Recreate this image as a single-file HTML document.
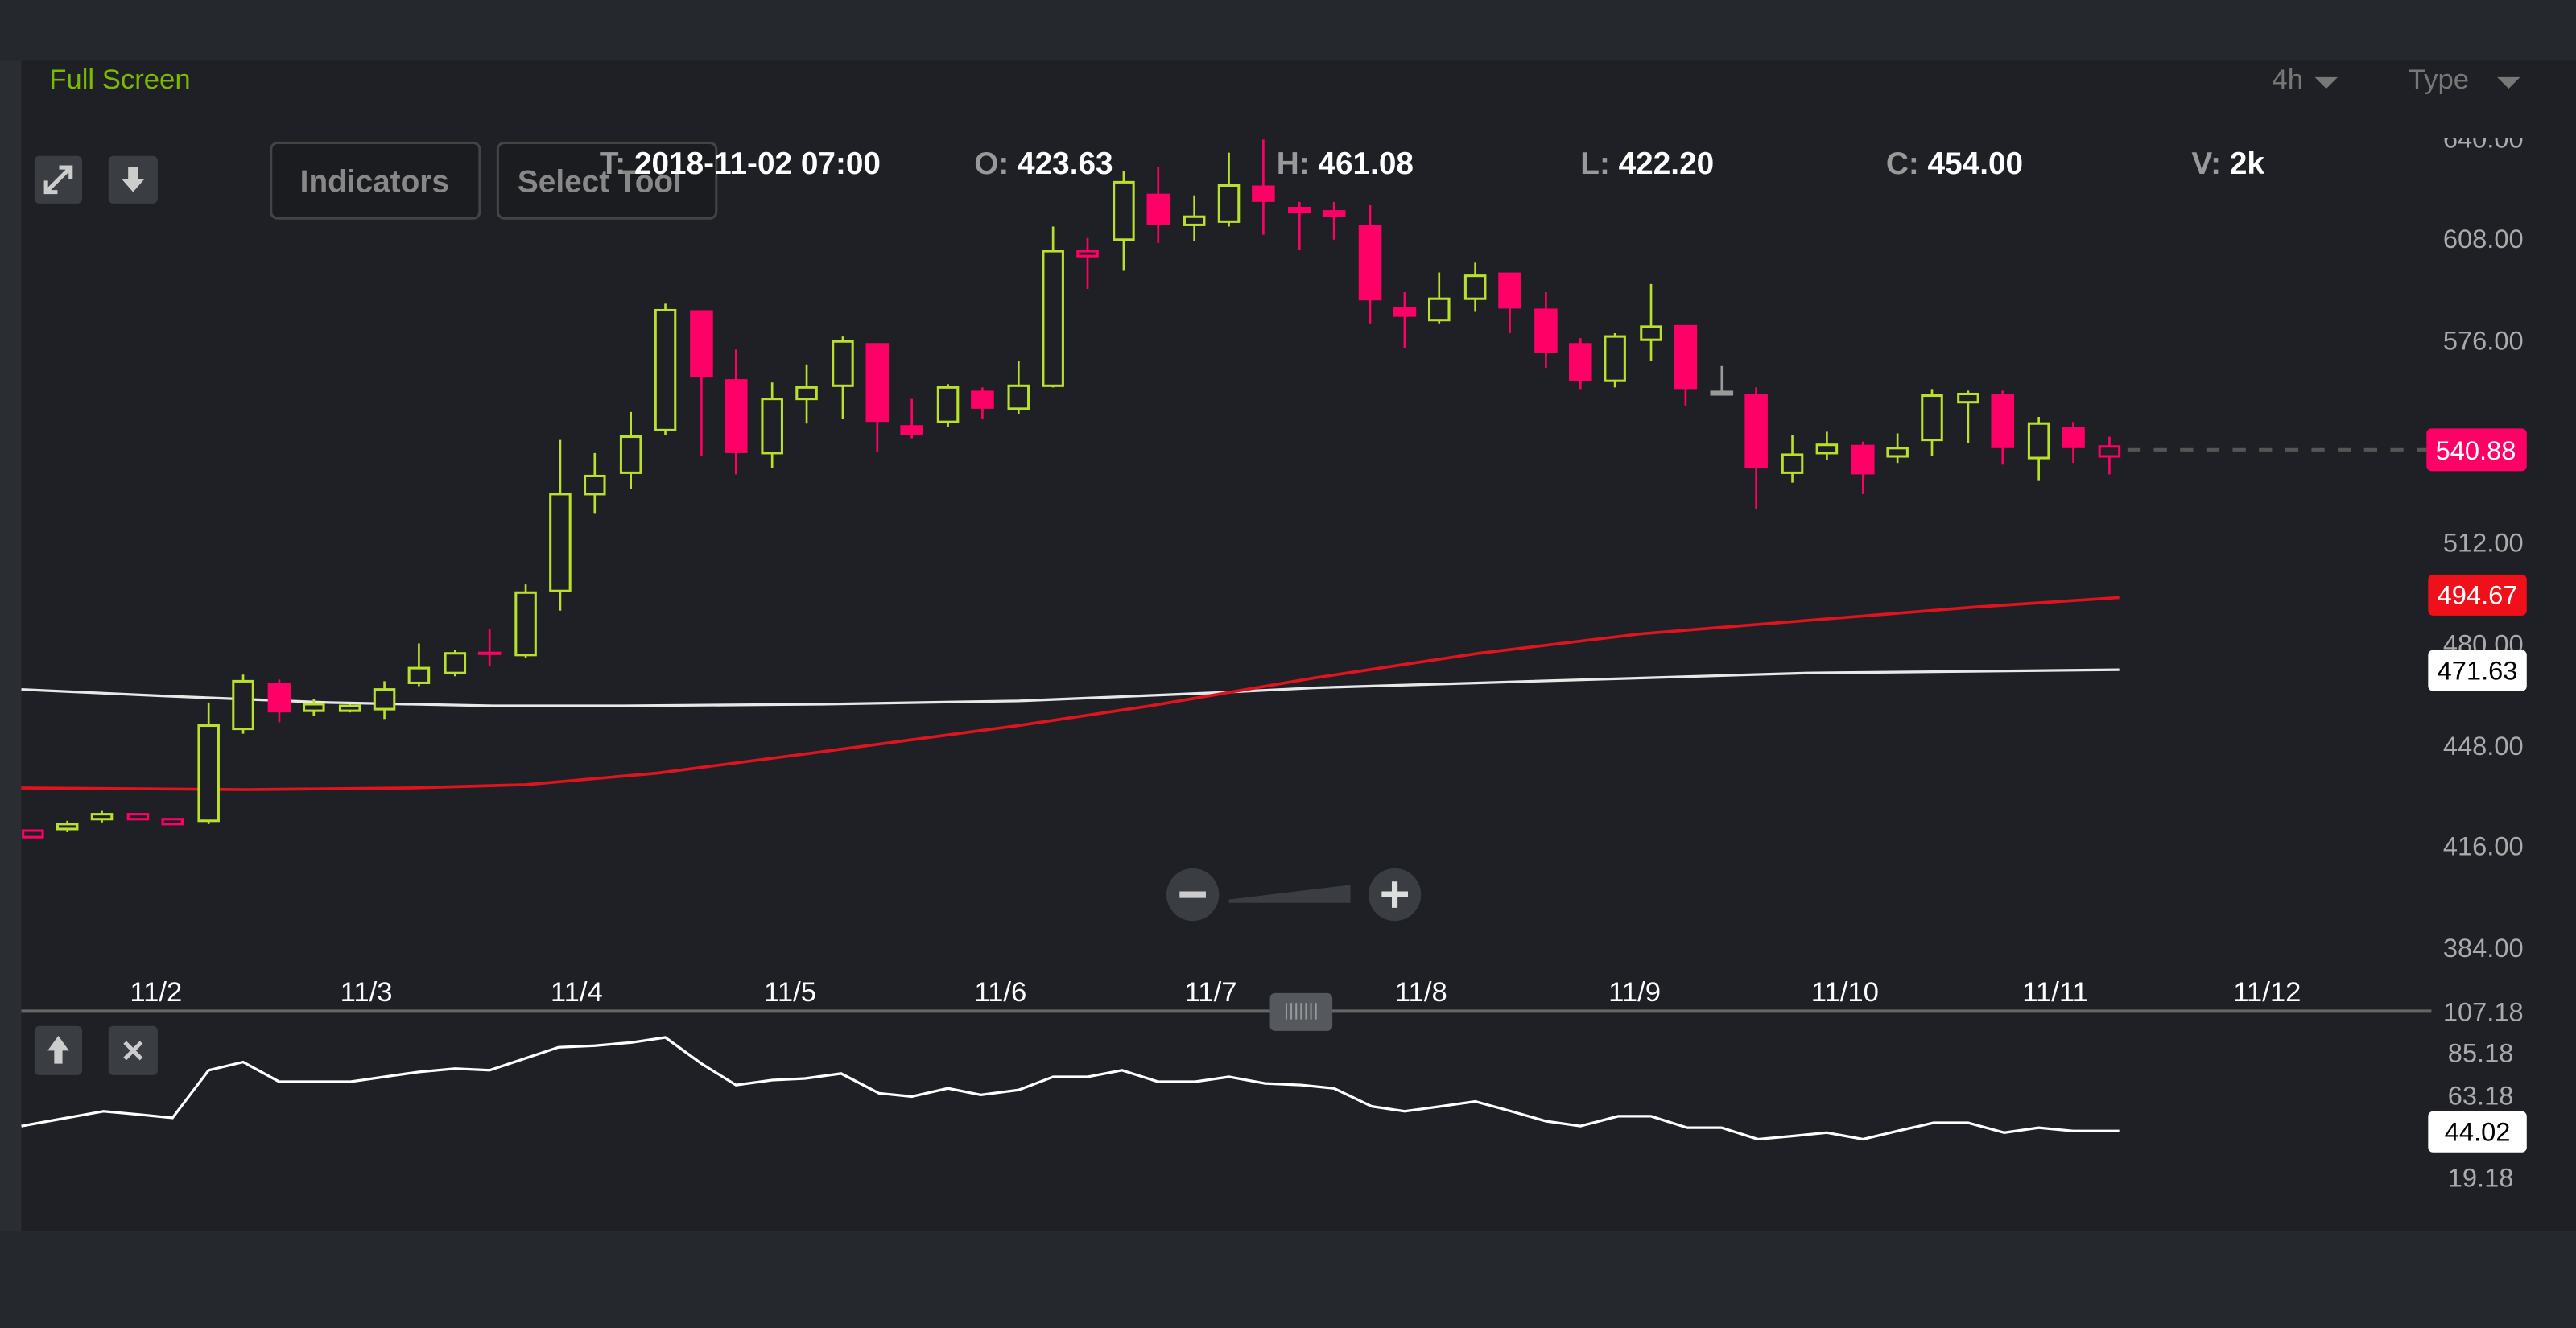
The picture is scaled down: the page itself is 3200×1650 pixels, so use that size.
<!DOCTYPE html>
<html><head><meta charset="utf-8"><style>
html,body{margin:0;padding:0;background:#25282d;width:3200px;height:1650px;overflow:hidden}
svg{display:block}
text{font-family:"Liberation Sans",sans-serif}
</style></head><body>
<svg id="s" width="3200" height="1650" viewBox="0 0 1568 809" preserveAspectRatio="none" xmlns="http://www.w3.org/2000/svg">
<defs><clipPath id="cp"><rect x="1400" y="84" width="168" height="20"/></clipPath></defs>
<rect x="0" y="0" width="1568" height="809" fill="#25282d"/>
<rect x="0" y="37" width="13" height="713" fill="#2a2d32"/>
<rect x="13" y="37" width="1555" height="713" fill="#1e2025"/>
<text x="30" y="54" font-size="17" fill="#7cba00">Full Screen</text>
<text x="1383" y="54" font-size="17" fill="#777">4h</text>
<polygon points="1409,47 1423,47 1416,54" fill="#777"/>
<text x="1466" y="54" font-size="17" fill="#777">Type</text>
<polygon points="1520,47 1534,47 1527,54" fill="#777"/>
<rect x="21" y="95" width="29" height="29" rx="3" fill="#3a3d42"/>
<path d="M28,117 L43,102 M36,102 L43,102 L43,109 M28,110 L28,117 L35,117" stroke="#ccc" stroke-width="2.5" fill="none"/>
<rect x="66" y="95" width="30" height="29" rx="3" fill="#3a3d42"/>
<path d="M78,102 L84,102 L84,109 L88,109 L81,117 L74,109 L78,109 Z" fill="#ccc"/>
<rect x="165" y="87" width="127" height="46" rx="4" fill="#1b1c1f" stroke="#444" stroke-width="1.5"/>
<text x="228" y="117" font-size="19" font-weight="bold" fill="#888" text-anchor="middle">Indicators</text>
<rect x="303" y="87" width="133" height="46" rx="4" fill="#1b1c1f" stroke="#444" stroke-width="1.5"/>
<text x="365" y="117" font-size="19" font-weight="bold" fill="#888" text-anchor="middle">Select Tool</text>
<g font-size="19" font-weight="bold">
<text x="365" y="106"><tspan fill="#999">T:</tspan><tspan fill="#fff"> 2018-11-02 07:00</tspan></text>
<text x="593" y="106"><tspan fill="#999">O:</tspan><tspan fill="#fff"> 423.63</tspan></text>
<text x="777" y="106"><tspan fill="#999">H:</tspan><tspan fill="#fff"> 461.08</tspan></text>
<text x="962" y="106"><tspan fill="#999">L:</tspan><tspan fill="#fff">  422.20</tspan></text>
<text x="1148" y="106"><tspan fill="#999">C:</tspan><tspan fill="#fff"> 454.00</tspan></text>
<text x="1334" y="106"><tspan fill="#999">V:</tspan><tspan fill="#fff"> 2k</tspan></text>
</g>
<g font-size="16" fill="#aaa" text-anchor="end">
<text x="1536" y="90" clip-path="url(#cp)">640.00</text>
<text x="1536" y="151">608.00</text>
<text x="1536" y="213">576.00</text>
<text x="1536" y="336">512.00</text>
<text x="1536" y="398">480.00</text>
<text x="1536" y="460">448.00</text>
<text x="1536" y="521">416.00</text>
<text x="1536" y="583">384.00</text>
<text x="1536" y="622">107.18</text>
<text x="1530" y="647">85.18</text>
<text x="1530" y="673">63.18</text>
<text x="1530" y="723">19.18</text>
</g>
<line x1="1295" y1="274" x2="1477" y2="274" stroke="#555" stroke-width="2" stroke-dasharray="8,8"/>
<polyline fill="none" stroke="#e8e8e8" stroke-width="1.6" points="13,420 100,424 200,428 300,430 380,430 500,429 620,427 740,422 800,419 900,416 1000,413 1100,410 1200,409 1290,408"/>
<polyline fill="none" stroke="#e0141e" stroke-width="1.8" points="13,480 150,481 250,480 320,478 400,471 500,458 620,442 700,430 800,413 900,398 1000,386 1100,378 1200,370 1290,364"/>
<g id="c"></g>
<rect x="1477" y="261" width="61" height="26" rx="3" fill="#ff0066"/>
<text x="1507" y="280" font-size="16" fill="#fff" text-anchor="middle">540.88</text>
<rect x="1478" y="350" width="60" height="25" rx="3" fill="#f0101a"/>
<text x="1508" y="368" font-size="16" fill="#fff" text-anchor="middle">494.67</text>
<rect x="1478" y="396" width="60" height="25" rx="3" fill="#fff"/>
<text x="1508" y="414" font-size="16" fill="#000" text-anchor="middle">471.63</text>
<circle cx="726" cy="545" r="16" fill="#3a3d42"/>
<rect x="718" y="543" width="16" height="4" fill="#ccc"/>
<polygon points="748,548 822,539 822,550 748,550" fill="#3a3d42"/>
<circle cx="849" cy="545" r="16" fill="#3a3d42"/>
<rect x="841" y="543" width="16" height="3.5" fill="#ddd"/><rect x="847.2" y="537" width="3.5" height="16" fill="#ddd"/>
<g font-size="17" fill="#fff" text-anchor="middle">
<text x="95" y="610">11/2</text><text x="223" y="610">11/3</text><text x="351" y="610">11/4</text><text x="481" y="610">11/5</text><text x="609" y="610">11/6</text><text x="737" y="610">11/7</text><text x="865" y="610">11/8</text><text x="995" y="610">11/9</text><text x="1123" y="610">11/10</text><text x="1251" y="610">11/11</text><text x="1380" y="610">11/12</text>
</g>
<line x1="13" y1="616" x2="1480" y2="616" stroke="#666" stroke-width="2"/>
<rect x="773" y="605" width="38" height="23" rx="3" fill="#55585d"/>
<g stroke="#999" stroke-width="1"><line x1="783" y1="611" x2="783" y2="621"/><line x1="786" y1="611" x2="786" y2="621"/><line x1="789" y1="611" x2="789" y2="621"/><line x1="792" y1="611" x2="792" y2="621"/><line x1="795" y1="611" x2="795" y2="621"/><line x1="798" y1="611" x2="798" y2="621"/><line x1="801" y1="611" x2="801" y2="621"/></g>
<rect x="21" y="625" width="29" height="30" rx="3" fill="#3a3d42"/>
<path d="M35.5,631 L42,640 L38,640 L38,648 L33,648 L33,640 L29,640 Z" fill="#ccc"/>
<rect x="66" y="625" width="30" height="30" rx="3" fill="#3a3d42"/>
<path d="M76,635 L86,645 M86,635 L76,645" stroke="#ccc" stroke-width="2.5"/>
<polyline fill="none" stroke="#fff" stroke-width="1.6" points="13,686 35,682 63,677 85,679 105,681 127,652 148,647 170,659 213,659 255,653 277,651 298,652 340,638 362,637 385,635 405,632 427,648 448,661 470,658 490,657 512,654 535,666 555,668 577,663 597,667 620,664 641,656 662,656 683,652 705,659 727,659 748,656 770,660 792,661 812,663 835,674 855,677 877,674 898,671 920,677 941,683 962,686 985,680 1005,680 1027,687 1048,687 1070,694 1092,692 1112,690 1134,694 1155,689 1177,684 1198,684 1220,690 1241,687 1262,689 1290,689"/>
<rect x="1478" y="677" width="60" height="25" rx="3" fill="#fff"/>
<text x="1508" y="695" font-size="16" fill="#000" text-anchor="middle">44.02</text>
</svg>
<script>
var d=[[20,506,510,506,510,'h'],[41,502,505,500,507,'g'],[62,496,499,494,501,'g'],[84,496,499,496,499,'h'],[105,499,502,499,502,'h'],[127,442,500,428,502,'g'],[148,415,444,411,447,'g'],[170,416,434,414,440,'r'],[191,429,433,426,436,'g'],[213,430,433,429,434,'g'],[234,420,432,415,438,'g'],[255,407,416,392,418,'g'],[277,398,410,396,412,'g'],[298,397,399,383,406,'r'],[320,361,399,356,401,'g'],[341,301,360,268,372,'g'],[362,290,301,276,313,'g'],[384,266,288,251,298,'g'],[405,189,262,185,265,'g'],[427,189,230,189,278,'r'],[448,231,276,213,289,'r'],[470,243,276,233,285,'g'],[491,236,243,222,258,'g'],[513,208,235,205,255,'g'],[534,209,257,209,275,'r'],[555,259,265,243,267,'r'],[577,236,257,234,260,'g'],[598,238,249,236,255,'r'],[620,235,249,220,252,'g'],[641,153,235,138,236,'g'],[662,153,156,145,176,'h'],[684,111,146,104,165,'g'],[705,118,137,102,148,'r'],[727,132,137,119,147,'g'],[748,113,135,93,138,'g'],[769,113,123,85,143,'r'],[791,126,130,123,152,'r'],[812,128,132,123,146,'r'],[834,137,183,125,197,'r'],[855,187,193,178,212,'r'],[876,182,195,166,197,'g'],[898,168,182,160,190,'g'],[919,166,188,166,203,'r'],[941,188,215,178,224,'r'],[962,209,232,206,237,'r'],[983,205,232,203,236,'g'],[1005,199,207,173,220,'g'],[1026,198,237,198,247,'r'],[1048,238,241,223,241,'k'],[1069,240,285,236,310,'r'],[1091,277,288,265,294,'g'],[1112,271,276,263,280,'g'],[1134,271,289,269,301,'r'],[1155,273,278,264,282,'g'],[1176,241,268,237,278,'g'],[1198,240,245,238,270,'g'],[1219,240,273,238,283,'r'],[1241,258,279,254,293,'g'],[1262,260,273,257,282,'r'],[1284,272,278,266,289,'h']];
var h='';d.forEach(function(c){var x=c[0],t=c[1],b=c[2],col=c[5]=='g'?'#b8e02c':c[5]=='k'?'#999':'#ff0066';
h+='<line x1="'+x+'" y1="'+c[3]+'" x2="'+x+'" y2="'+c[4]+'" stroke="'+col+'" stroke-width="1.3"/>';
if(c[5]=='g'||c[5]=='h'){h+='<rect x="'+(x-6)+'" y="'+t+'" width="12" height="'+Math.max(b-t,2)+'" fill="#1e2025" stroke="'+col+'" stroke-width="1.5"/>';}
else{h+='<rect x="'+(x-7)+'" y="'+t+'" width="14" height="'+Math.max(b-t,2)+'" fill="'+col+'"/>';}});
document.getElementById('c').innerHTML=h;
</script>
</body></html>
